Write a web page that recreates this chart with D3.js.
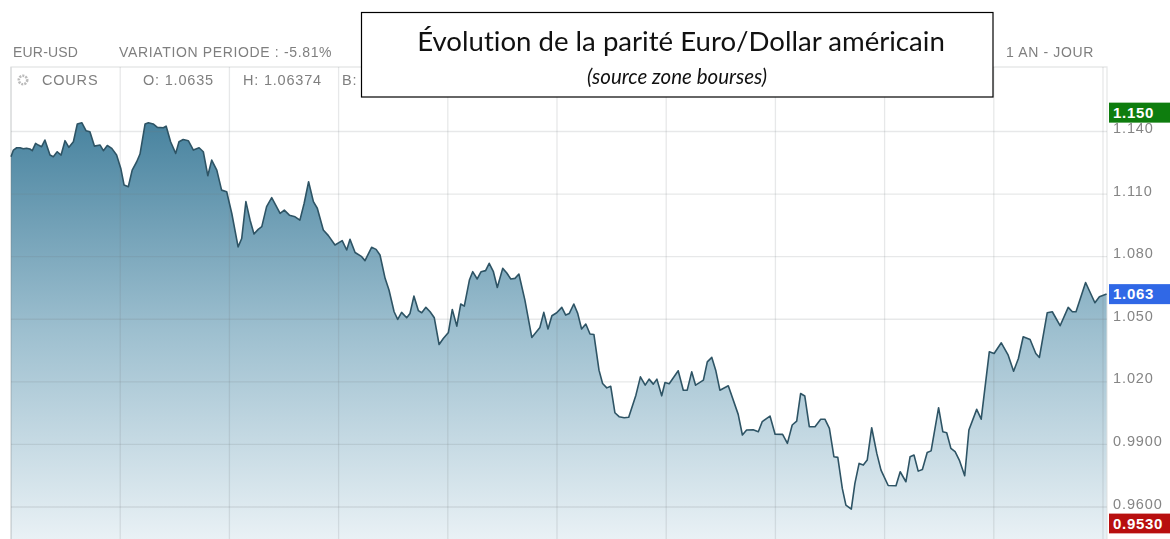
<!DOCTYPE html>
<html><head><meta charset="utf-8">
<script src="https://cdn.jsdelivr.net/npm/d3@7"></script>
<style>html,body{margin:0;padding:0;background:#fff;overflow:hidden}svg{display:block;filter:blur(.4px)}
text{font-family:"Liberation Sans",Arial,sans-serif;font-variant-ligatures:none}</style></head><body>
<svg id="c" width="1170" height="539"></svg>
<script>
const sessionDays=[0,.8,1.9,3,4.1,5.2,6.3,7.1,8.2,9.1,10.2,11.3,13,14.1,15.4,16.7,18,19.3,20.8,22.1,23.6,25,26.3,27.8,29.7,30.8,32.1,33.6,35.2,36.6,37.7,39.1,40.4,41.9,43,44.7,45.8,47.4,48.8,50.8,51.7,53.2,54.9,56,57.4,59.1,60.8,62.7,64.1,65.6,66.9,68.6,70.2,71.9,73.6,75.7,76.9,78.3,79.7,81,82.4,83.6,85.2,86.9,89.7,91.1,92.8,94.7,96.3,97.7,99.2,100.8,102.1,104.1,105.8,108,110.4,111.9,113,114.7,116.9,118,120.2,121.7,
123,124.7,126,127.7,128.9,130.2,131.9,133,134.3,135.8,136.9,138.3,139.7,141.1,142.7,144.1,145.8,147.1,148.6,149.9,151.1,152.8,153.9,155.4,156.7,158.2,159.4,160.8,162.1,163.9,165.2,166.6,168,169.3,171.3,173.6,176.3,177.6,179,180.3,181.9,183.6,184.9,186.1,187.6,188.9,190.2,191.6,193,194.3,196,197.2,198.6,199.9,201.3,202.7,204.4,205.9,208.3,209.8,211.4,212.7,214.1,215.3,216.9,218,219.4,222.4,224.1,225.4,226.9,228.2,230.8,232.1,233.6,234.9,236.3,239.1,242.4,243.8,245.2,247.4,249.1,250.4,253,
254.7,257.2,258.8,260.4,261.9,263.2,264.6,266.1,268,269.9,271.3,272.8,274.3,275.6,277.1,278.3,280.1,281.3,282.7,284.1,285.4,286.9,288.6,290,292.4,295,296.4,298.3,299.7,301,302.4,303.8,305.4,306.7,309.2,310.6,311.9,313.3,314.7,316.1,317.9,319.3,321.9,323.4,326.1,327.7,330.1,332.4,334.2,335.8,337.4,339.7,341.6,342.8,345.4,347.1,349.7,352.4,353.8,355,358.2,361.3,362.8,365.2];
const closePrices=[1.1279,1.1311,1.1322,1.1322,1.1317,1.1320,1.1316,1.1308,1.1343,1.1335,1.1327,1.1359,1.1287,1.1279,1.1303,1.1287,1.1356,1.1324,1.1351,1.1436,1.1442,1.1404,1.1399,1.1330,1.1335,1.1308,1.1333,1.1319,1.1287,1.1223,1.1143,1.1135,1.1215,1.1255,1.1292,1.1436,1.1442,1.1436,1.1420,1.1418,1.1426,1.1351,1.1295,1.1351,1.1362,1.1356,1.1311,1.1322,1.1303,1.1188,1.1263,1.1215,1.1119,1.1111,1.1007,1.0847,1.0887,1.1064,1.0975,1.0909,1.0931,1.0944,1.1040,1.1083,1.1007,1.1023,1.0999,1.0991,1.0975,1.1055,1.1159,1.1064,1.1032,1.0928,1.0901,1.0856,1.0877,1.0832,1.0883,1.0820,1.0800,1.0781,1.0845,1.0835,
1.0808,1.0696,1.0640,1.0536,1.0499,1.0533,1.0507,1.0528,1.0611,1.0541,1.0531,1.0557,1.0536,1.0507,1.0379,1.0408,1.0437,1.0547,1.0467,1.0573,1.0563,1.0688,1.0728,1.0693,1.0728,1.0733,1.0768,1.0728,1.0652,1.0744,1.0723,1.0693,1.0696,1.0717,1.0592,1.0413,1.0461,1.0533,1.0453,1.0517,1.0531,1.0557,1.0520,1.0528,1.0573,1.0528,1.0453,1.0477,1.0429,1.0427,1.0256,1.0192,1.0171,1.0179,1.0052,1.0033,1.0028,1.0030,1.0136,1.0224,1.0184,1.0213,1.0189,1.0213,1.0133,1.0197,1.0191,1.0253,1.0160,1.0160,1.0248,1.0184,1.0208,1.0296,1.0317,1.0256,1.0160,1.0181,1.0044,.9945,.9969,.9970,.9961,1.0009,1.0036,
.9949,.9948,.9905,.9993,1.0012,1.0144,1.0132,.9985,.9985,1.0021,1.0021,.9977,.9841,.9838,.9689,.9609,.9590,.9713,.9809,.9801,.9825,.9980,.9857,.9777,.9703,.9702,.9769,.9721,.9841,.9849,.9772,.9780,.9861,.9869,1.0076,.9961,.9956,.9881,.9865,.9825,.9750,.9969,1.0068,1.0021,1.0344,1.0336,1.0387,1.0328,1.0251,1.0312,1.0416,1.0403,1.0336,1.0317,1.0531,1.0536,1.0469,1.0557,1.0536,1.0536,1.0676,1.0579,1.0608,1.0621];
const priceTicks=[1.14,1.11,1.08,1.05,1.02,.99,.96];
const priceTickLabels=["1.140","1.110","1.080","1.050","1.020","0.9900","0.9600"];
const dayGridTicks=[0,36.4,72.8,109.2,145.6,182,218.4,254.8,291.2,327.6,364];
const badgeValues=[1.15,1.063,.953];
const badgeLabels=["1.150","1.063","0.9530"];
const badgeColors=["#0e7d0e","#3068e6","#b80f0f"];
const headerTop=["EUR-USD","VARIATION PERIODE : -5.81%","1 AN - JOUR"];
const headerRow=["COURS","O: 1.0635","H: 1.06374","B:"];

const svg=d3.select("#c");
const x=d3.scaleLinear().domain([0,364]).range([11,1103]);
const y=d3.scaleLinear().domain([.96,1.14]).range([507,131.5]);
const plotTop=67,plotBottom=539,plotLeft=11,plotRight=1107;
const pts=sessionDays.map((d,i)=>[d,closePrices[i]]);

const grad=svg.append("defs").append("linearGradient").attr("id","g").attr("gradientUnits","userSpaceOnUse")
  .attr("x1",0).attr("x2",0).attr("y1",122).attr("y2",539);
grad.append("stop").attr("offset",0).attr("stop-color","#48839f");
grad.append("stop").attr("offset",.5).attr("stop-color","#9dbfcf");
grad.append("stop").attr("offset",1).attr("stop-color","#e9f1f5");

svg.append("path").datum(pts).attr("fill","url(#g)")
  .attr("d",d3.area().x(d=>x(d[0])).y0(plotBottom).y1(d=>y(d[1])));

const gridColor="rgba(110,120,125,.17)";
svg.append("g").selectAll("line").data(priceTicks).join("line")
  .attr("x1",plotLeft).attr("x2",plotRight).attr("y1",d=>y(d)).attr("y2",d=>y(d))
  .attr("stroke",gridColor).attr("stroke-width",1.3);
svg.append("g").selectAll("line").data(dayGridTicks).join("line")
  .attr("x1",d=>x(d)).attr("x2",d=>x(d)).attr("y1",plotTop).attr("y2",plotBottom)
  .attr("stroke",gridColor).attr("stroke-width",1.3);
svg.append("path").attr("d",`M${plotLeft},${plotBottom}V${plotTop}H${plotRight}V${plotBottom}`)
  .attr("fill","none").attr("stroke",gridColor).attr("stroke-width",1.3);

svg.append("path").datum(pts).attr("fill","none").attr("stroke","#2e5465").attr("stroke-width",1.6)
  .attr("stroke-linejoin","round")
  .attr("d",d3.line().x(d=>x(d[0])).y(d=>y(d[1])));

const axis=d3.axisRight(y).tickValues(priceTicks).tickSize(0).tickPadding(0)
  .tickFormat((d,i)=>priceTickLabels[i]);
const ag=svg.append("g").attr("transform","translate(1113,-3.5)").call(axis);
ag.select(".domain").remove();
ag.selectAll("text").attr("fill","#858585").attr("font-size",14.5).attr("letter-spacing",.9)
  .style("font-family",'"Liberation Sans",Arial,sans-serif').attr("x",0);

const bg=svg.append("g").selectAll("g").data(badgeValues).join("g")
  .attr("transform",d=>`translate(1109,${y(d)+2-10})`);
bg.append("rect").attr("width",61).attr("height",20).attr("fill",(d,i)=>badgeColors[i]);
bg.append("text").attr("x",4).attr("y",15).attr("fill","#fff").attr("font-size",15).attr("font-weight","bold")
  .attr("letter-spacing",.7).text((d,i)=>badgeLabels[i]);

const hdr=svg.append("g").attr("fill","#7f7f7f").attr("font-size",14).attr("letter-spacing",.6);
hdr.selectAll("text.top").data(headerTop).join("text").attr("class","top")
  .attr("x",(d,i)=>[13,119,1006][i]).attr("y",57).attr("letter-spacing",(d,i)=>i==0?.2:.65).text(d=>d);
hdr.selectAll("text.row").data(headerRow).join("text").attr("class","row")
  .attr("x",(d,i)=>[42,143,243,342][i]).attr("y",85).attr("font-size",14.5).attr("letter-spacing",.8).text(d=>d);
svg.append("circle").attr("cx",23).attr("cy",80).attr("r",4.2).attr("fill","none")
  .attr("stroke","#bbb").attr("stroke-width",2.6).attr("stroke-dasharray","2 1.1");

svg.append("rect").attr("x",361.5).attr("y",12.5).attr("width",631.5).attr("height",84.5)
  .attr("fill","#fff").attr("stroke","#000").attr("stroke-width",1.2);
svg.append("text").attr("x",681).attr("y",51).attr("text-anchor","middle").attr("fill","#111")
  .style("font-family","Lato").attr("font-size",27.6).text("Évolution de la parité Euro/Dollar américain");
svg.append("text").attr("x",677).attr("y",84).attr("text-anchor","middle").attr("fill","#111")
  .style("font-family","Lato").attr("font-style","italic").attr("font-size",20.5).text("(source zone bourses)");
</script></body></html>
